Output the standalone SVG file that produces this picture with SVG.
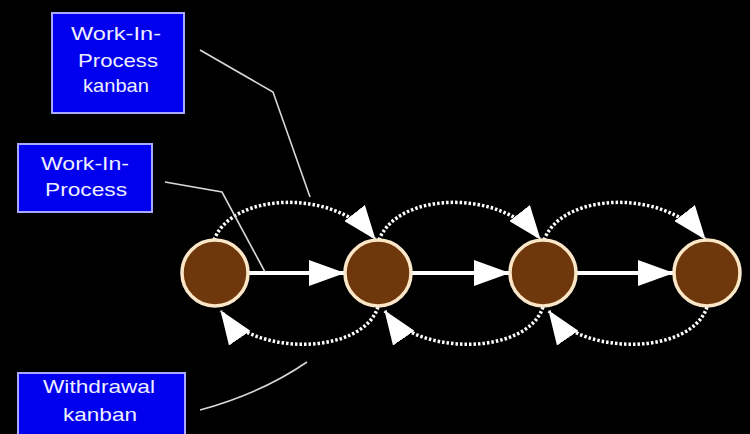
<svg xmlns="http://www.w3.org/2000/svg" width="750" height="434" viewBox="0 0 750 434">
<style>
.box{fill:#0000ee;stroke:#a8a8ff;stroke-width:2}
.lbl{font-family:"Liberation Sans",Arial,sans-serif;font-size:19px;fill:#eeeeff;text-anchor:middle}
.stage{fill:#6f380c;stroke:#fbe6c8;stroke-width:3.5}
.flow{fill:none;stroke:#ffffff;stroke-width:4}
.dot{fill:none;stroke:#ffffff;stroke-width:3.5;stroke-dasharray:2.5 2}
.lead{fill:none;stroke:#d8d8d8;stroke-width:1.6}
</style>
<defs>
<marker id="ah" markerUnits="userSpaceOnUse" viewBox="0 0 36 26" refX="35" refY="13" markerWidth="36" markerHeight="26" orient="auto">
<path d="M0,0 L36,13 L0,26 Z" fill="#ffffff"/>
</marker>
<marker id="ak" markerUnits="userSpaceOnUse" viewBox="0 0 34 26" refX="33" refY="13" markerWidth="34" markerHeight="26" orient="auto">
<path d="M0,0 L34,13 L0,26 Z" fill="#ffffff"/>
</marker>
</defs>
<rect width="750" height="434" fill="#000000"/>
<g id="connectors">
<line class="flow" x1="247" y1="273" x2="344" y2="273" marker-end="url(#ah)"/>
<line class="flow" x1="412" y1="273" x2="509" y2="273" marker-end="url(#ah)"/>
<line class="flow" x1="577" y1="273" x2="673" y2="273" marker-end="url(#ah)"/>
<path class="dot" d="M214 240 C232 192 335 188 375 239" marker-end="url(#ak)"/>
<path class="dot" d="M379 240 C397 192 500 188 540 239" marker-end="url(#ak)"/>
<path class="dot" d="M544 240 C562 192 665 188 705 239" marker-end="url(#ak)"/>
<path class="dot" d="M378 307 C362 356 252 356 221 311" marker-end="url(#ak)"/>
<path class="dot" d="M543 307 C527 356 416 356 385 311" marker-end="url(#ak)"/>
<path class="dot" d="M707 307 C691 356 580 356 549 311" marker-end="url(#ak)"/>
<polyline class="lead" points="200,50 273,92 310,197"/>
<polyline class="lead" points="165,182 222,192 265,272"/>
<path class="lead" d="M200 410 Q262 393 307 362"/>
</g>
<g id="stage1"><circle class="stage" cx="215" cy="273" r="33"/></g>
<g id="stage2"><circle class="stage" cx="378" cy="273" r="33"/></g>
<g id="stage3"><circle class="stage" cx="543" cy="273" r="33"/></g>
<g id="stage4"><circle class="stage" cx="707" cy="273" r="33"/></g>
<g id="wip-kanban">
<rect class="box" x="52" y="13" width="132" height="100"/>
<text class="lbl" x="116" y="40" textLength="90" lengthAdjust="spacingAndGlyphs">Work-In-</text>
<text class="lbl" x="118" y="67" textLength="80" lengthAdjust="spacingAndGlyphs">Process</text>
<text class="lbl" x="116" y="92" textLength="66" lengthAdjust="spacingAndGlyphs">kanban</text>
</g>
<g id="wip">
<rect class="box" x="18" y="144" width="134" height="68"/>
<text class="lbl" x="85" y="170" textLength="88" lengthAdjust="spacingAndGlyphs">Work-In-</text>
<text class="lbl" x="86" y="196" textLength="82" lengthAdjust="spacingAndGlyphs">Process</text>
</g>
<g id="withdrawal-kanban">
<rect class="box" x="18" y="373" width="167" height="75"/>
<text class="lbl" x="99" y="393" textLength="112" lengthAdjust="spacingAndGlyphs">Withdrawal</text>
<text class="lbl" x="100" y="421" textLength="74" lengthAdjust="spacingAndGlyphs">kanban</text>
</g>
</svg>
